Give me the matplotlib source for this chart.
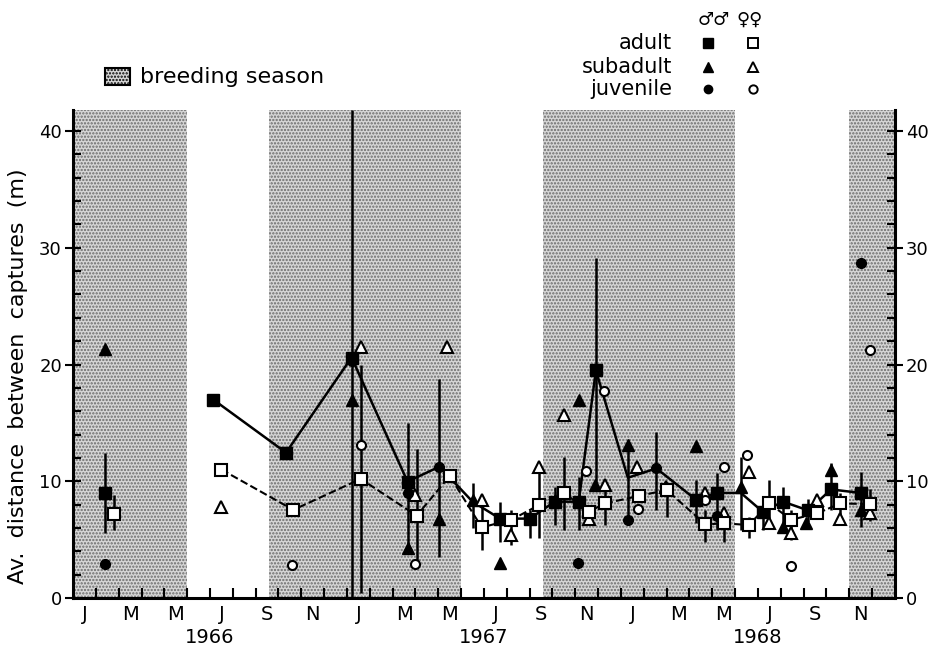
import matplotlib.pyplot as plt
from matplotlib.lines import Line2D
from matplotlib.patches import Rectangle

# x is in months from 1 Jan 1966, y is mean distance (m)
season_start = [0.0, 8.6, 20.6, 34.0]
season_end = [5.0, 17.0, 29.0, 36.0]

month_labels = ['J', 'M', 'M', 'J', 'S', 'N'] * 3
year_labels = ['1966', '1967', '1968']

# lines: males solid, females dashed
male_line_x = [6.14, 9.33, 12.2, 14.65, 16.05, 17.5, 18.7, 20.0, 21.1, 22.15, 22.9,
               24.3, 25.55, 27.3, 28.2, 29.25, 30.2, 31.1, 32.2, 33.2, 34.5]
male_line_y = [17.0, 12.45, 20.6, 9.97, 11.25, 8.25, 6.8, 6.8, 8.25, 8.25, 19.5,
               10.3, 11.1, 8.4, 9.0, 9.0, 7.4, 8.25, 7.5, 9.3, 9.0]
female_line_x = [6.5, 9.65, 12.6, 15.05, 16.5, 17.9, 19.2, 20.4, 21.5, 22.6, 23.3,
                 24.8, 26.0, 27.7, 28.5, 29.6, 30.5, 31.45, 32.6, 33.6, 34.9]
female_line_y = [11.0, 7.55, 10.2, 7.05, 10.45, 6.05, 6.7, 7.95, 9.0, 7.4, 8.1,
                 8.75, 9.25, 6.3, 6.4, 6.25, 8.1, 6.7, 7.25, 8.1, 8.05]

adult_m_x = [1.4, 6.14, 9.33, 12.2, 14.65, 18.7, 20.0, 21.1, 22.15, 22.9,
             27.3, 28.2, 30.2, 31.1, 32.2, 33.2, 34.5]
adult_m_y = [9.0, 17.0, 12.45, 20.6, 9.97, 6.8, 6.8, 8.25, 8.25, 19.5,
             8.4, 9.0, 7.4, 8.25, 7.5, 9.3, 9.0]
adult_f_x = [1.8] + female_line_x
adult_f_y = [7.2] + female_line_y

subad_m_x = [1.4, 12.2, 14.65, 16.05, 17.5, 18.7, 21.1, 22.15, 22.85, 24.3,
             27.3, 29.25, 30.2, 31.1, 32.1, 33.2, 34.5]
subad_m_y = [21.3, 17.0, 4.25, 6.8, 8.4, 3.0, 8.4, 17.0, 9.7, 13.1,
             13.0, 9.5, 7.5, 6.1, 6.4, 11.0, 7.5]
subad_f_x = [6.5, 12.6, 15.0, 16.4, 17.9, 19.2, 20.4, 21.5, 22.6, 23.3, 24.7,
             25.95, 27.7, 28.5, 29.6, 30.5, 31.45, 32.6, 33.6, 34.9]
subad_f_y = [7.8, 21.5, 8.8, 21.5, 8.4, 5.4, 11.25, 15.7, 6.8, 9.7, 11.25,
             9.5, 9.0, 7.25, 10.8, 6.45, 5.55, 8.4, 6.8, 7.25]

juv_m_x = [1.4, 12.2, 14.65, 16.05, 22.1, 24.3, 25.55, 28.2, 34.5]
juv_m_y = [2.9, 20.3, 9.0, 11.25, 3.0, 6.7, 11.1, 7.0, 28.7]
juv_f_x = [9.6, 12.6, 15.0, 22.45, 23.25, 24.75, 27.7, 28.5, 29.5, 31.45, 34.9]
juv_f_y = [2.8, 13.1, 2.95, 10.9, 17.7, 7.6, 8.4, 11.2, 12.25, 2.75, 21.2]

err_x = [1.4, 1.8, 12.2, 12.6, 14.65, 15.05, 16.05, 17.5, 17.9, 18.7, 19.2,
         20.0, 20.4, 21.1, 21.5, 22.15, 22.9, 23.3, 24.3, 25.55, 26.0, 27.3,
         27.7, 28.2, 28.5, 29.25, 29.6, 30.2, 30.5, 31.1, 31.45, 32.2, 33.2,
         33.6, 34.5, 34.9]
err_lo = [5.6, 5.8, 0.0, 0.4, 3.9, 2.6, 3.5, 6.0, 4.1, 4.8, 4.5,
          5.1, 5.1, 6.25, 5.8, 5.8, 9.5, 6.25, 6.4, 7.5, 6.9, 6.4,
          4.8, 5.8, 4.8, 5.8, 5.1, 5.8, 6.1, 6.25, 5.0, 6.5, 7.5,
          6.7, 6.1, 6.6]
err_hi = [12.4, 8.8, 41.8, 20.0, 15.0, 12.8, 18.8, 9.85, 8.1, 8.2, 7.5,
          7.5, 11.2, 9.5, 12.1, 10.4, 29.1, 9.85, 13.5, 14.2, 9.5, 10.1,
          7.5, 10.7, 6.9, 12.1, 6.9, 8.7, 10.1, 9.5, 7.5, 8.5, 11.6,
          9.0, 10.8, 9.3]

W, H = 929, 654
plt.rcParams['font.family'] = ['DejaVu Sans']
plt.rcParams['hatch.linewidth'] = 1.1

fig = plt.figure(figsize=(W / 100, H / 100), dpi=100)
ax = fig.add_axes([73 / W, 1 - 598 / H, (895 - 73) / W, (598 - 110) / H])

shade = dict(facecolor='#d6d6d6', edgecolor='#6a6a6a', hatch='.....', lw=0, zorder=0)
for a, b in zip(season_start, season_end):
    ax.axvspan(a, b, **shade)

ax.vlines(err_x, err_lo, err_hi, color='black', lw=1.8, zorder=2)
ax.plot(male_line_x, male_line_y, '-', color='black', lw=1.8, zorder=3)
ax.plot(female_line_x, female_line_y, '--', color='black', lw=1.5, zorder=3)

ms = 8.5
ax.plot(subad_m_x, subad_m_y, '^', ls='none', color='black', ms=ms, zorder=4)
ax.plot(subad_f_x, subad_f_y, '^', ls='none', mfc='white', mec='black', mew=1.5, ms=ms, zorder=4)
ax.plot(juv_m_x, juv_m_y, 'o', ls='none', color='black', ms=7, zorder=5)
ax.plot(juv_f_x, juv_f_y, 'o', ls='none', mfc='white', mec='black', mew=1.5, ms=6.5, zorder=5)
ax.plot(adult_m_x, adult_m_y, 's', ls='none', color='black', ms=ms, zorder=6)
ax.plot(adult_f_x, adult_f_y, 's', ls='none', mfc='white', mec='black', mew=1.5, ms=ms, zorder=6)

ax.set_xlim(0, 36)
ax.set_ylim(0, 41.8)
ax.spines['top'].set_visible(False)
for s in ['left', 'bottom', 'right']:
    ax.spines[s].set_linewidth(2.2)

ax.set_xticks([m + 0.5 for m in range(0, 36, 2)])
ax.set_xticklabels(month_labels, fontsize=14)
ax.set_xticks(range(1, 36), minor=True)
ax.tick_params(axis='x', which='major', length=0, pad=5)
ax.tick_params(axis='x', which='minor', direction='in', length=7, width=1.5)

ax.set_yticks(range(0, 41, 10))
ax.set_yticks(range(0, 41, 2), minor=True)
ax.tick_params(axis='y', which='major', direction='inout', length=12, width=1.5,
               labelsize=13, pad=2, right=True, labelright=True)
ax.tick_params(axis='y', which='minor', direction='in', length=6, width=1.5, right=True)

for i, yl in enumerate(year_labels):
    ax.text(6 + 12 * i, -0.08, yl, transform=ax.get_xaxis_transform(),
            ha='center', va='center', fontsize=14)

fig.text(18 / W, 1 - 376 / H, 'Av.  distance  between  captures  (m)', rotation=90,
         ha='center', va='center', fontsize=16)

# breeding season key
fig.add_artist(Rectangle((105 / W, 1 - 85 / H), 25 / W, 17 / H, transform=fig.transFigure,
                         facecolor='#d6d6d6', edgecolor='black', hatch='.....', lw=1.5))
fig.text(140 / W, 1 - 77 / H, 'breeding season', ha='left', va='center', fontsize=16)

# age / sex key
fig.text(714 / W, 1 - 20 / H, '♂♂', ha='center', va='center', fontsize=13)
fig.text(750 / W, 1 - 20 / H, '♀♀', ha='center', va='center', fontsize=13)
key_rows = ['adult', 'subadult', 'juvenile']
key_marks = ['s', '^', 'o']
key_y = [43, 67, 89]
for lab, mk, yy in zip(key_rows, key_marks, key_y):
    fig.text(672 / W, 1 - yy / H, lab, ha='right', va='center', fontsize=15)
    size = 6 if mk == 'o' else 7.5
    fig.add_artist(Line2D([708 / W], [1 - yy / H], transform=fig.transFigure, marker=mk,
                          ls='none', color='black', ms=size))
    fig.add_artist(Line2D([753 / W], [1 - yy / H], transform=fig.transFigure, marker=mk,
                          ls='none', mfc='white', mec='black', mew=1.4, ms=size))

fig.savefig('out.png', dpi=100)
